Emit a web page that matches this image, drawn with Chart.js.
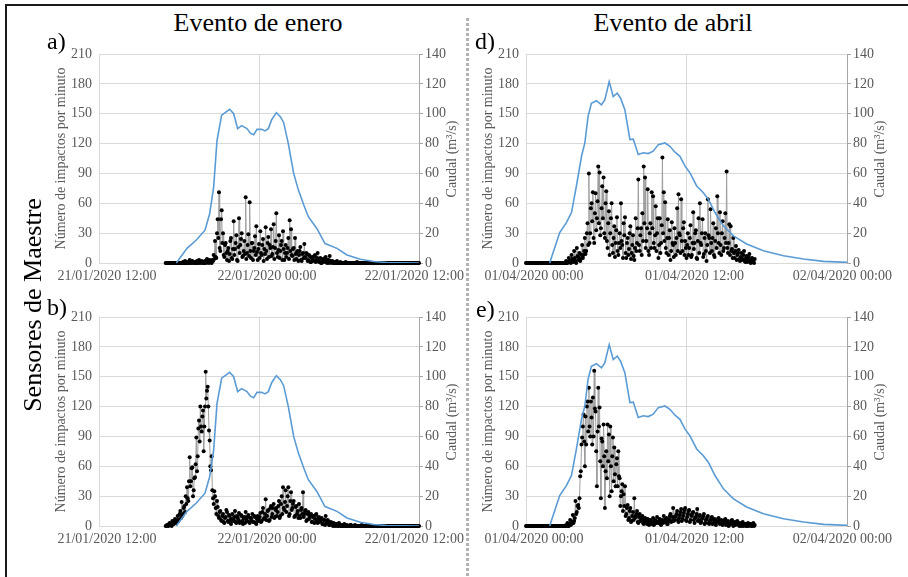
<!DOCTYPE html>
<html>
<head>
<meta charset="utf-8">
<script src="https://cdn.jsdelivr.net/npm/chart.js@4.4.1/dist/chart.umd.min.js"></script>
<style>
  html, body { margin: 0; padding: 0; background: #fff; }
  #page { position: relative; width: 908px; height: 577px; overflow: hidden; background: #fff; font-family: 'Liberation Serif', 'Times New Roman', serif; }
  canvas { position: absolute; }
  .txt { position: absolute; white-space: nowrap; color: #000; line-height: 1; }
  .title { font-size: 26px; transform: translateX(-50%); }
  .lab { font-size: 24px; }
  .rtitle { font-size: 14px; color: #595959; transform: translate(-50%, -50%) rotate(-90deg); }
  #side { font-size: 26px; left: 33px; top: 305px; transform: translate(-50%, -50%) rotate(-90deg); }
  #frameTop { position: absolute; left: 5px; top: 4px; width: 910px; height: 2px; background: #1a1a1a; }
  #frameLeft { position: absolute; left: 5px; top: 4px; width: 2px; height: 600px; background: #1a1a1a; }
  #divider { position: absolute; left: 466px; top: 18px; width: 3px; height: 570px;
    background: repeating-linear-gradient(to bottom, #b3b3b3 0 3px, transparent 3px 5px); }
</style>
</head>
<body>
<div id="page">
  <div id="frameTop"></div>
  <div id="frameLeft"></div>
  <div id="divider"></div>

  <canvas id="chartA" width="416" height="250" style="left:50px; top:44px;"></canvas>
  <canvas id="chartB" width="416" height="250" style="left:50px; top:307px;"></canvas>
  <canvas id="chartD" width="418" height="250" style="left:478px; top:44px;"></canvas>
  <canvas id="chartE" width="418" height="250" style="left:478px; top:307px;"></canvas>

  <div class="txt title" style="left:258px; top:10px;">Evento de enero</div>
  <div class="txt title" style="left:673px; top:10px;">Evento de abril</div>
  <div class="txt lab" style="left:47px; top:29px;">a)</div>
  <div class="txt lab" style="left:47px; top:295px;">b)</div>
  <div class="txt lab" style="left:475px; top:29px;">d)</div>
  <div class="txt lab" style="left:476px; top:297px;">e)</div>
  <div class="txt rtitle" style="left:452px; top:159px;">Caudal (m³/s)</div>
  <div class="txt rtitle" style="left:452px; top:422px;">Caudal (m³/s)</div>
  <div class="txt rtitle" style="left:880px; top:159px;">Caudal (m³/s)</div>
  <div class="txt rtitle" style="left:880px; top:422px;">Caudal (m³/s)</div>
  <div class="txt" id="side">Sensores de Maestre</div>
</div>

<script>
'use strict';

// impacts per minute, one value every 0.05 h (3 min), one row = one hour
// January: hours after 21/01/2020 12:00, April: hours after 01/04/2020 00:00
const JAN_START = 5.0;
const APR_START = 0.0;
const STEP = 0.05;

const impactosA = [
  0, 0, 0, 0, 0, 0, 0, 0, 0, 0, 0, 0, 0, 0, 0, 0, 0, 0, 0, 0,
  0, 0, 0, 0, 0, 0, 1, 0, 0, 2, 0, 0, 1, 0, 0, 1, 3, 0, 0, 1,
  2, 0, 1, 0, 0, 1, 0, 2, 0, 0, 3, 1, 0, 1, 2, 0, 1, 0, 0, 2,
  1, 0, 4, 1, 2, 0, 3, 1, 1, 0, 3, 2, 8, 4, 22, 6, 5, 30, 44, 25,
  71, 15, 12, 44, 53, 20, 30, 8, 6, 18, 20, 10, 3, 12, 15, 2, 9, 22, 25, 5,
  4, 14, 42, 8, 14, 20, 28, 3, 2, 16, 45, 10, 18, 24, 30, 6, 7, 12, 22, 9,
  66, 4, 10, 18, 29, 7, 61, 12, 5, 20, 20, 3, 12, 15, 27, 8, 37, 11, 3, 14,
  19, 5, 32, 10, 8, 18, 24, 2, 14, 9, 36, 12, 4, 20, 26, 6, 18, 15, 34, 7,
  9, 16, 39, 4, 15, 22, 50, 10, 6, 13, 28, 5, 12, 18, 22, 3, 32, 14, 3, 10,
  18, 6, 10, 15, 25, 4, 43, 12, 34, 8, 7, 14, 15, 3, 25, 9, 4, 11, 12, 2,
  8, 12, 16, 3, 2, 9, 10, 5, 19, 6, 5, 10, 9, 2, 3, 8, 7, 1, 1, 5,
  6, 2, 3, 7, 8, 1, 2, 5, 10, 3, 1, 4, 5, 0, 0, 3, 4, 1, 2, 5,
  6, 1, 0, 3, 3, 0, 7, 2, 1, 0, 2, 1, 0, 0, 1, 0, 0, 2, 0, 0,
  0, 0, 1, 0, 0, 0, 0, 0, 0, 0, 1, 0, 0, 0, 0, 0, 0, 0, 0, 0,
  0, 0, 0, 0, 0, 0, 0, 1, 0, 0, 0, 0, 0, 0, 0, 0, 0, 0, 0, 0,
  0, 0, 0, 0, 0, 0, 0, 0, 0, 0, 0, 0, 0, 0, 0, 0, 0, 0, 0, 0,
  0, 0, 0, 0, 0, 0, 0, 0, 0, 0, 0, 0, 0, 0, 0, 0, 0, 0, 0, 0,
  0, 0, 0, 0, 0, 0, 0, 0, 0, 0, 0, 0, 0, 0, 0, 0, 0, 0, 0, 0,
  0, 0, 0, 0, 0, 0, 0, 0, 0, 0, 0, 0, 0, 0, 0, 0, 0, 0, 0, 0,
  0
];

const impactosB = [
  0, 0, 1, 0, 0, 2, 3, 1, 1, 0, 5, 2, 2, 4, 7, 3, 3, 6, 10, 5,
  6, 12, 15, 8, 24, 10, 12, 18, 20, 14, 30, 22, 39, 28, 25, 45, 69, 40, 45, 58,
  59, 30, 36, 48, 49, 62, 89, 55, 70, 98, 106, 85, 120, 100, 95, 110, 116, 75, 100, 120,
  155, 128, 136, 140, 120, 96, 86, 60, 56, 70, 36, 28, 22, 35, 30, 18, 12, 25, 19, 10,
  8, 14, 15, 6, 5, 10, 12, 4, 3, 8, 9, 16, 14, 5, 4, 11, 10, 6, 2, 7,
  12, 5, 6, 9, 15, 4, 3, 10, 8, 6, 13, 3, 4, 11, 10, 5, 2, 8, 9, 3,
  14, 6, 5, 9, 11, 4, 3, 8, 8, 5, 12, 4, 4, 10, 9, 3, 2, 7, 10, 5,
  6, 9, 13, 4, 5, 14, 18, 7, 8, 12, 27, 6, 10, 15, 16, 5, 6, 18, 20, 9,
  12, 18, 22, 8, 9, 16, 18, 10, 14, 20, 25, 8, 10, 22, 30, 12, 39, 18, 16, 24,
  36, 14, 20, 30, 39, 10, 12, 25, 34, 16, 18, 22, 25, 9, 10, 19, 20, 12, 15, 8,
  22, 10, 8, 16, 18, 12, 34, 9, 12, 15, 16, 5, 6, 12, 14, 7, 9, 11, 12, 4,
  4, 9, 10, 3, 7, 11, 12, 5, 3, 8, 9, 4, 5, 7, 8, 2, 2, 6, 6, 1,
  10, 4, 3, 6, 5, 1, 1, 3, 4, 2, 2, 0, 3, 1, 0, 2, 2, 0, 1, 0,
  3, 1, 0, 0, 1, 0, 0, 1, 2, 0, 0, 0, 1, 0, 0, 0, 0, 1, 1, 0,
  0, 0, 0, 0, 1, 0, 0, 0, 0, 0, 0, 0, 0, 0, 1, 0, 0, 0, 0, 0,
  0, 0, 0, 0, 0, 0, 0, 0, 0, 0, 0, 0, 0, 0, 0, 0, 0, 0, 0, 0,
  0, 0, 0, 0, 0, 0, 0, 0, 0, 0, 0, 0, 0, 0, 0, 0, 0, 0, 0, 0,
  0, 0, 0, 0, 0, 0, 0, 0, 0, 0, 0, 0, 0, 0, 0, 0, 0, 0, 0, 0,
  0, 0, 0, 0, 0, 0, 0, 0, 0, 0, 0, 0, 0, 0, 0, 0, 0, 0, 0, 0,
  0
];

const impactosD = [
  0, 0, 0, 0, 0, 0, 0, 0, 0, 0, 0, 0, 0, 0, 0, 0, 0, 0, 0, 0,
  0, 0, 0, 0, 0, 0, 0, 0, 0, 0, 0, 0, 0, 0, 0, 0, 0, 0, 0, 0,
  0, 0, 0, 0, 0, 0, 0, 0, 0, 0, 0, 0, 0, 0, 0, 0, 0, 0, 0, 0,
  2, 0, 0, 1, 5, 2, 1, 0, 8, 4, 3, 1, 12, 5, 2, 0, 15, 7, 6, 3,
  10, 2, 4, 8, 18, 5, 8, 12, 25, 9, 12, 30, 40, 18, 90, 20, 30, 55, 60, 42,
  71, 25, 20, 50, 70, 33, 45, 62, 97, 40, 91, 28, 35, 55, 77, 45, 86, 30, 25, 60,
  72, 22, 15, 40, 52, 8, 30, 45, 60, 18, 10, 25, 37, 6, 20, 33, 46, 12, 8, 20,
  30, 15, 60, 22, 18, 5, 40, 28, 46, 10, 5, 20, 25, 8, 14, 30, 37, 4, 10, 18,
  28, 7, 3, 15, 45, 12, 20, 35, 84, 18, 12, 28, 35, 8, 50, 22, 97, 40, 86, 15,
  22, 35, 74, 12, 8, 30, 40, 15, 71, 35, 67, 20, 15, 28, 57, 12, 30, 45, 5, 18,
  45, 10, 20, 38, 106, 30, 71, 22, 61, 15, 10, 25, 44, 8, 25, 33, 3, 12, 41, 20,
  18, 6, 35, 20, 8, 25, 55, 12, 69, 30, 28, 10, 64, 22, 12, 35, 41, 8, 22, 15,
  5, 18, 30, 8, 15, 25, 38, 6, 8, 20, 51, 14, 20, 30, 33, 5, 4, 22, 45, 10,
  60, 20, 18, 30, 44, 6, 9, 25, 30, 12, 2, 18, 64, 28, 25, 10, 54, 20, 12, 25,
  40, 8, 6, 22, 35, 15, 67, 30, 20, 10, 51, 18, 8, 30, 42, 12, 15, 25, 50, 20,
  92, 15, 10, 20, 39, 8, 37, 12, 14, 5, 25, 10, 5, 12, 17, 3, 8, 10, 13, 4,
  2, 6, 10, 3, 4, 8, 12, 2, 1, 5, 7, 1, 3, 6, 9, 2, 0, 3, 5, 1,
  2, 0, 4
];

const impactosE = [
  0, 0, 0, 0, 0, 0, 0, 0, 0, 0, 0, 0, 0, 0, 0, 0, 0, 0, 0, 0,
  0, 0, 0, 0, 0, 0, 0, 0, 0, 0, 0, 0, 0, 0, 0, 0, 0, 0, 0, 0,
  0, 0, 0, 0, 0, 0, 0, 0, 0, 0, 0, 0, 0, 0, 0, 0, 0, 0, 0, 0,
  1, 0, 3, 0, 0, 2, 6, 1, 2, 4, 11, 3, 5, 8, 25, 12, 14, 20, 21, 18,
  28, 50, 55, 82, 89, 100, 112, 85, 60, 110, 82, 120, 125, 95, 139, 100, 90, 125, 109, 82,
  129, 90, 156, 118, 115, 75, 40, 95, 139, 100, 119, 65, 28, 88, 85, 60, 102, 70, 18, 55,
  75, 48, 102, 65, 92, 30, 100, 60, 35, 70, 89, 45, 79, 52, 40, 62, 68, 40, 75, 50,
  48, 20, 30, 35, 42, 15, 32, 20, 40, 10, 12, 18, 21, 6, 8, 15, 18, 4, 5, 10,
  14, 6, 28, 8, 10, 12, 15, 4, 3, 9, 12, 5, 6, 8, 10, 3, 2, 6, 8, 4,
  4, 2, 7, 3, 1, 5, 6, 2, 3, 4, 8, 1, 2, 6, 5, 3, 9, 4, 3, 5,
  7, 2, 1, 4, 6, 3, 10, 5, 4, 7, 8, 2, 2, 5, 7, 10, 12, 4, 5, 9,
  18, 5, 6, 9, 10, 12, 15, 6, 4, 8, 11, 14, 17, 5, 7, 10, 13, 16, 18, 6,
  5, 9, 12, 15, 16, 4, 6, 11, 10, 13, 14, 6, 3, 8, 9, 12, 17, 5, 6, 10,
  11, 3, 4, 7, 8, 10, 12, 2, 3, 6, 7, 9, 10, 3, 2, 5, 6, 8, 9, 2,
  3, 6, 7, 2, 1, 4, 5, 7, 8, 3, 2, 5, 6, 2, 1, 3, 4, 6, 7, 1,
  2, 4, 5, 0, 1, 2, 3, 5, 6, 2, 0, 3, 4, 1, 2, 4, 5, 2, 1, 0,
  3, 1, 0, 2, 4, 0, 1, 2, 2, 0, 0, 1, 3, 0, 1, 2, 2, 0, 0, 1,
  3, 0, 1
];

// discharge (m3/s)
const caudalEneroHoras = [5.8, 6.6, 7.3, 7.95, 8.3, 8.6, 8.85, 9.2, 9.8, 10.1,
  10.4, 10.7, 11.1, 11.35, 11.6, 11.85, 12.2, 12.45, 12.7, 12.95,
  13.3, 13.6, 13.85, 14.2, 14.6, 14.95, 15.35, 15.7, 16.35, 16.95,
  17.85, 18.6, 19.6, 20.6, 21.6, 24.0];
const caudalEnero = [0, 9.8, 15.4, 22, 33, 51, 82, 99, 103, 100,
  90, 92, 90, 87, 86, 89.5, 89.5, 88.5, 90, 96,
  100.7, 98, 94, 80, 60, 49, 39, 31, 23, 13,
  9.8, 5.4, 2.5, 1, 0.3, 0];

const caudalAbrilHoras = [1.77, 2.52, 3.02, 3.4, 3.77, 4.15, 4.4, 4.64, 4.89, 5.27,
  5.64, 5.89, 6.22, 6.52, 6.82, 7.07, 7.39, 7.77, 8.02, 8.39,
  8.77, 9.14, 9.51, 9.89, 10.39, 10.76, 11.14, 11.51, 11.89, 12.26,
  12.76, 13.26, 13.63, 14.13, 14.76, 15.51, 16.5, 17.75, 19.25, 20.75,
  22.25, 24.0];
const caudalAbril = [0, 20.4, 27, 33.8, 51.6, 71.5, 80.4, 98.2, 107, 108.7,
  106, 109.3, 121.5, 111.5, 113.8, 110.4, 102.7, 82.7, 83, 72.7,
  73.8, 73.3, 74.9, 79.3, 80.4, 78.2, 74.2, 71.5, 64.9, 60.4,
  51.6, 47.1, 42.7, 33.8, 24.9, 18.2, 12.7, 8.2, 4.9, 2.7,
  1.1, 0.4];

const eneroLabels = ['21/01/2020 12:00', '22/01/2020 00:00', '22/01/2020 12:00'];
const abrilLabels = ['01/04/2020 00:00', '01/04/2020 12:00', '02/04/2020 00:00'];
const labelHours = [0.6, 12.6, 23.65];

const SERIF = "'Liberation Serif', 'Times New Roman', serif";
const BLUE = '#5b9bd5';
const GRID = '#d9d9d9';
const AXIS = '#a6a6a6';
const TICK = '#595959';

function toPoints( hours, values ) {
  return values.map( ( v, i ) => ( { x: hours[i], y: v } ) );
}

function stepPoints( start, values ) {
  return values.map( ( v, i ) => ( { x: start + i * STEP, y: v } ) );
}

function makePanel( id, impacts, caudal, labels, box ) {
  let ctx = document.getElementById( id ).getContext( '2d' );
  let font = { family: SERIF, size: 14 };

  return new Chart( ctx, {
    type: 'line',
    data: {
      datasets: [{
        label: 'Caudal',
        data: caudal,
        yAxisID: 'y1',
        borderColor: BLUE,
        borderWidth: 1.6,
        pointRadius: 0,
        order: 0
      }, {
        label: 'Impactos',
        data: impacts,
        yAxisID: 'y',
        borderColor: '#9e9e9e',
        borderWidth: 1,
        pointRadius: 2,
        pointBackgroundColor: '#000',
        pointBorderWidth: 0,
        clip: false,
        order: 1
      }]
    },
    options: {
      responsive: false,
      animation: false,
      devicePixelRatio: 1,
      layout: { padding: { top: 10, left: 0, right: 0, bottom: 0 } },
      plugins: { legend: { display: false }, tooltip: { enabled: false } },
      scales: {
        x: {
          type: 'linear', min: 0, max: 24,
          ticks: { display: false, stepSize: 12 },
          grid: { color: GRID, drawTicks: false },
          border: { color: GRID },
          afterFit( s ) { s.height = 0; s.paddingLeft = 0; s.paddingRight = 0; }
        },
        xl: {
          type: 'linear', position: 'bottom', min: 0, max: 24,
          grid: { display: false, drawTicks: false },
          border: { display: false },
          afterBuildTicks( s ) { s.ticks = labelHours.map( v => ( { value: v } ) ); },
          ticks: {
            autoSkip: false, maxRotation: 0, padding: 5, color: TICK, font: font,
            callback: ( v, i ) => labels[i]
          },
          afterFit( s ) { s.height = 31; s.paddingLeft = 0; s.paddingRight = 0; }
        },
        y: {
          position: 'left', min: 0, max: 210,
          ticks: { stepSize: 30, padding: 7, color: TICK, font: font },
          grid: { color: GRID, drawTicks: false },
          border: { display: false },
          title: {
            display: true, text: 'Número de impactos por minuto', color: TICK,
            font: font, padding: { top: box.leftPad, bottom: 0 }
          },
          afterFit( s ) { s.width = box.leftW; s.paddingTop = 0; s.paddingBottom = 0; }
        },
        y1: {
          position: 'right', min: 0, max: 140,
          ticks: { stepSize: 20, padding: 2, color: TICK, font: font },
          grid: { drawOnChartArea: false, color: AXIS, tickLength: 4 },
          border: { color: AXIS },
          afterFit( s ) { s.width = box.rightW; s.paddingTop = 0; s.paddingBottom = 0; }
        }
      }
    }
  } );
}

let boxJan = { leftW: 49, rightW: 47, leftPad: 2.6 };
let boxApr = { leftW: 48, rightW: 49, leftPad: 1.6 };

makePanel( 'chartA', stepPoints( JAN_START, impactosA ), toPoints( caudalEneroHoras, caudalEnero ), eneroLabels, boxJan );
makePanel( 'chartB', stepPoints( JAN_START, impactosB ), toPoints( caudalEneroHoras, caudalEnero ), eneroLabels, boxJan );
makePanel( 'chartD', stepPoints( APR_START, impactosD ), toPoints( caudalAbrilHoras, caudalAbril ), abrilLabels, boxApr );
makePanel( 'chartE', stepPoints( APR_START, impactosE ), toPoints( caudalAbrilHoras, caudalAbril ), abrilLabels, boxApr );
</script>
</body>
</html>
